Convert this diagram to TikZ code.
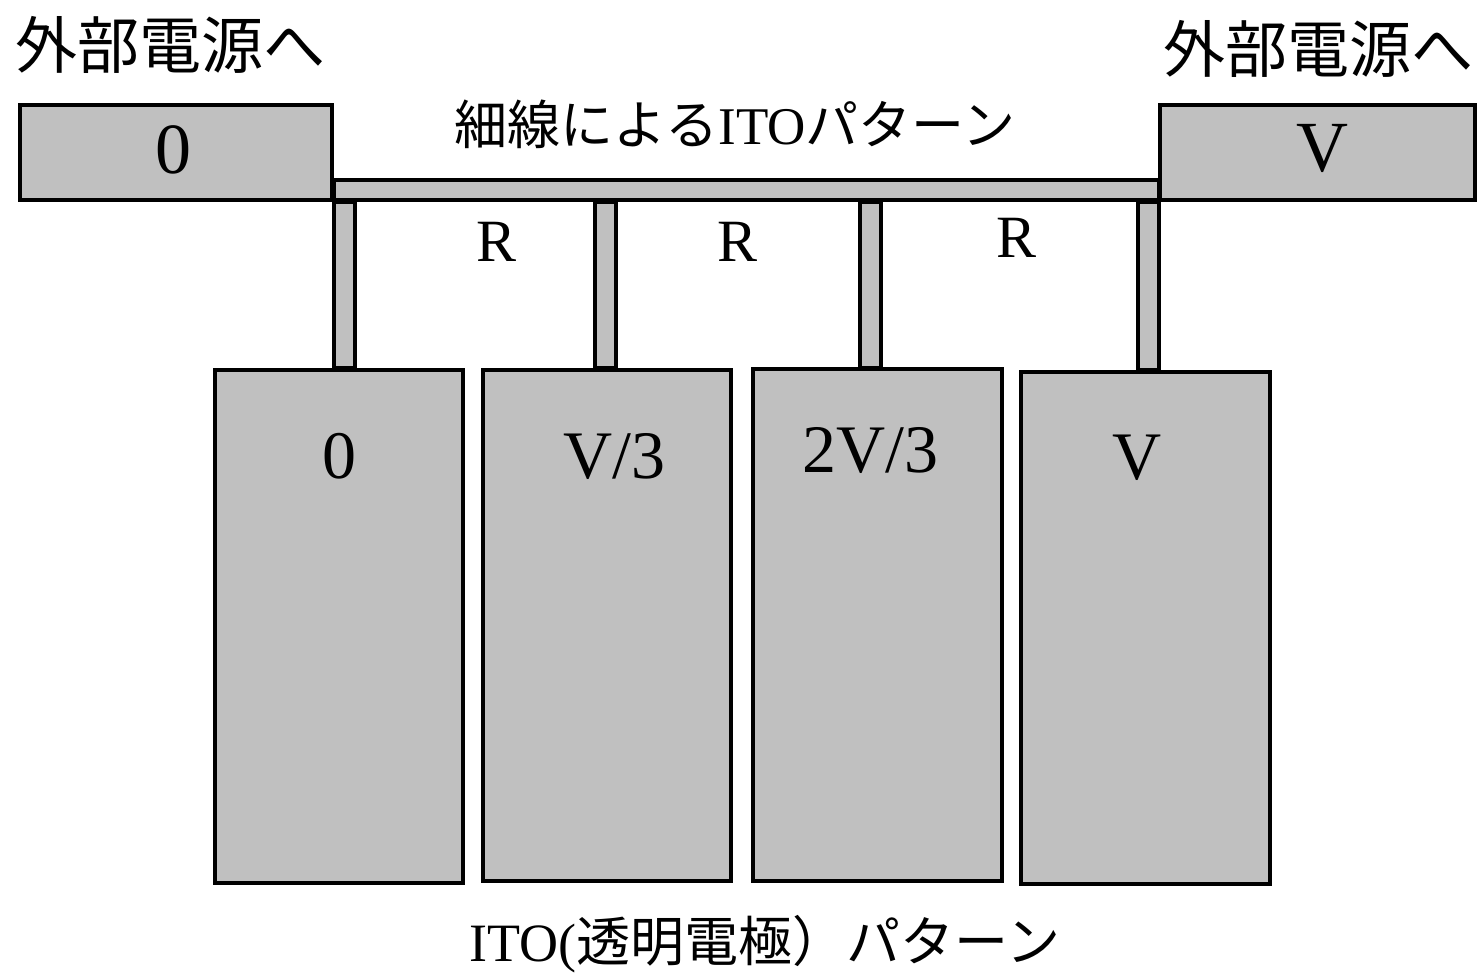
\documentclass[tikz,border=0pt]{standalone}
\usepackage{fontspec}
\setmainfont{Liberation Serif}
\newfontfamily\jp{Noto Sans CJK JP}
\definecolor{ito}{HTML}{C0C0C0}
\begin{document}
\begin{tikzpicture}[x=1pt,y=-1pt,
  pad/.style={draw=black,line width=4pt,fill=ito,rectangle,inner sep=0pt,outer sep=0pt},
  lbl/.style={inner sep=0pt,font=\fontsize{68}{70}\selectfont},
  rlbl/.style={inner sep=0pt,font=\fontsize{60}{62}\selectfont},
  jtxt/.style={inner sep=0pt,font=\fontsize{62}{64}\selectfont\jp}]
\useasboundingbox (0,0) rectangle (1483,972);
% top pads
\node[pad,minimum width=312pt,minimum height=95pt] (topL) at (176,152.5) {};
\node[pad,minimum width=315pt,minimum height=95pt] (topR) at (1317.5,152.5) {};
% stems
\node[pad,minimum width=21pt,minimum height=166pt] (s1) at (344.5,285) {};
\node[pad,minimum width=21pt,minimum height=166pt] (s2) at (605,285) {};
\node[pad,minimum width=21pt,minimum height=166pt] (s3) at (870.5,285) {};
\node[pad,minimum width=21pt,minimum height=168pt] (s4) at (1148.5,286) {};
% bus
\node[pad,minimum width=825pt,minimum height=20pt] (bus) at (746.5,190) {};
% bottom electrodes
\node[pad,minimum width=248pt,minimum height=513pt] (b1) at (339,626.5) {};
\node[pad,minimum width=248pt,minimum height=511pt] (b2) at (607,625.5) {};
\node[pad,minimum width=249pt,minimum height=512pt] (b3) at (877.5,625) {};
\node[pad,minimum width=249pt,minimum height=512pt] (b4) at (1145.5,628) {};
% labels
\node[lbl,font=\fontsize{72}{74}\selectfont] (t0) at (173,150) {0};
\node[lbl,font=\fontsize{72}{74}\selectfont] (tV) at (1322,148) {V};
\node[lbl] (l1) at (339,456) {0};
\node[lbl] (l2) at (614,456) {V/3};
\node[lbl] (l3) at (870,450) {2V/3};
\node[lbl] (l4) at (1137,458) {V};
\node[rlbl] (r1) at (497,242) {R};
\node[rlbl] (r2) at (738,242) {R};
\node[rlbl] (r3) at (1016,238) {R};
\node[jtxt] (extL) at (171,45) {外部電源へ};
\node[jtxt] (extR) at (1318,49) {外部電源へ};
\node[inner sep=0pt,font=\fontsize{53}{55}\selectfont] (thin) at (735,124) {{\jp 細線による}ITO{\jp パターン}};
\node[inner sep=0pt,font=\fontsize{54}{56}\selectfont] (itop) at (765,944) {ITO({\jp 透明電極）パターン}};
\end{tikzpicture}
\end{document}
